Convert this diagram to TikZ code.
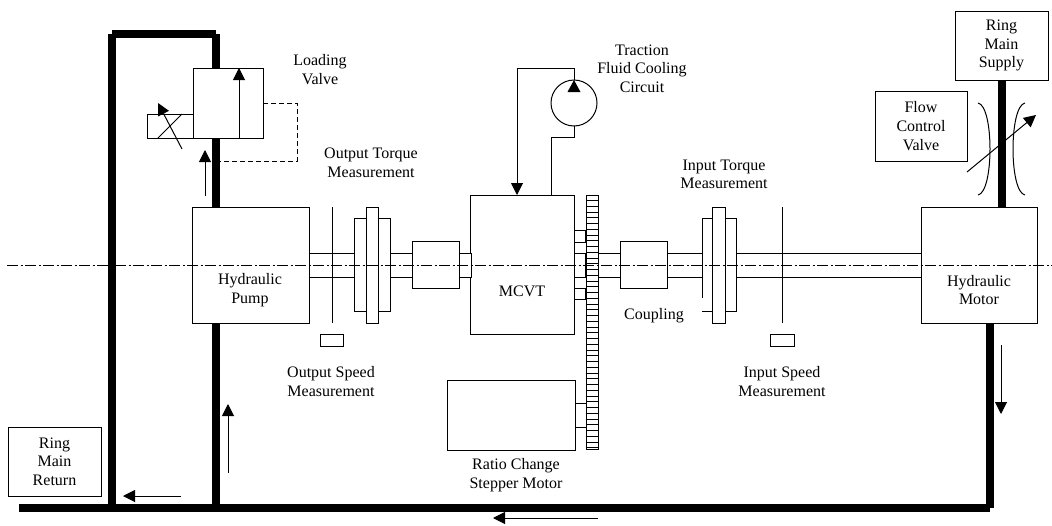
\documentclass[tikz,border=0pt]{standalone}
\usepackage{fontspec}
\setmainfont{Liberation Serif}
\usetikzlibrary{arrows.meta}
\tikzset{
  box/.style={draw, line width=1pt, fill=white, inner sep=0pt, outer sep=0pt},
  txt/.style={align=center, inner sep=0pt, font=\fontsize{16}{18.6}\selectfont},
  pipe/.style={line width=8pt},
  wire/.style={line width=1pt},
  flow/.style={line width=1pt, -{Triangle[length=12pt,width=12pt]}},
}
\begin{document}
\begin{tikzpicture}[x=1pt, y=-1pt]
    \useasboundingbox (0,0) rectangle (1052,525);

    % 配管の点
    \coordinate (TL) at (112,34);
    \coordinate (TR) at (216,34);
    \coordinate (VT) at (216,68);
    \coordinate (VB) at (216,138);
    \coordinate (PT) at (216,207);
    \coordinate (PB) at (216,323);
    \coordinate (BP) at (216,508);
    \coordinate (BL) at (112,508);
    \coordinate (BS) at (19,508);
    \coordinate (BE) at (990,508);
    \coordinate (MB) at (990,323);
    \coordinate (ST) at (1002,80);
    \coordinate (SB) at (1002,207);

    % ブロック
    \node[box, minimum width=117, minimum height=116] (pump) at (250.5,265) {};
    \node[box, minimum width=116, minimum height=116] (motor) at (979,265) {};
    \node[box, minimum width=104, minimum height=139] (mcvt) at (522,264.5) {};
    \node[box, minimum width=47, minimum height=47] (couplingA) at (435.5,264.5) {};
    \node[box, minimum width=47, minimum height=47] (couplingB) at (643.5,264.5) {};
    \node[box, minimum width=128, minimum height=70] (stepper) at (511,415) {};
    \node[box, minimum width=93, minimum height=69] (supply) at (1001.5,45.5) {};
    \node[box, minimum width=92, minimum height=70] (flowvalve) at (921,126) {};
    \node[box, minimum width=93, minimum height=69] (return) at (54.5,461.5) {};

    % 軸
    \node[box, minimum width=46, minimum height=24] (shaftA) at (332,265) {};
    \node[box, minimum width=22, minimum height=24] (shaftB) at (401,265) {};
    \node[box, minimum width=12, minimum height=24] (shaftC) at (465.5,265) {};
    \node[box, minimum width=22, minimum height=24] (shaftD) at (609,265) {};
    \node[box, minimum width=35, minimum height=24] (shaftE) at (684.5,265) {};
    \node[box, minimum width=185, minimum height=24] (shaftF) at (828.5,265) {};

    % フランジ
    \node[box, minimum width=36, minimum height=93] (flangeA) at (372,264.5) {};
    \node[box, minimum width=12, minimum height=116] (hubA) at (372,265) {};
    \draw[wire] (712,311) -- (702,311) (702,298) -- (702,218) -- (736,218) -- (736,311) -- (725,311);
    \node[box, minimum width=13, minimum height=116] (hubB) at (718.5,265) {};

    % ラック
    \node[box, minimum width=11, minimum height=12] (stubA) at (579.5,236) {};
    \node[box, minimum width=11, minimum height=24] (stubB) at (579.5,265) {};
    \node[box, minimum width=11, minimum height=11] (stubC) at (579.5,293.5) {};
    \node[box, minimum width=11, minimum height=24] (stubD) at (580.5,415) {};
    \node[box, minimum width=12, minimum height=254] (rack) at (592,322) {};
    \foreach \y in {0,...,43} {
      \draw[line width=0.8pt] (586,200.5+5.75*\y) -- (598,200.5+5.75*\y);
    }

    % センサ
    \coordinate (sensorAT) at (332,207);
    \coordinate (sensorAB) at (332,323);
    \coordinate (sensorBT) at (782,207);
    \coordinate (sensorBB) at (782,323);
    \draw[wire] (sensorAT) -- (sensorAB);
    \draw[wire] (sensorBT) -- (sensorBB);
    \node[box, minimum width=23, minimum height=12] (speedA) at (331.5,340) {};
    \node[box, minimum width=24, minimum height=12] (speedB) at (782,340) {};

    % 太い配管
    \draw[pipe] (TL) -- (TR);
    \draw[pipe] (TL) -- (BL);
    \draw[pipe] (TR) -- (VT);
    \draw[pipe] (VB) -- (PT);
    \draw[pipe] (PB) -- (BP);
    \draw[pipe] (BS) -- (BE);
    \draw[pipe] (MB) -- (BE);
    \draw[pipe] (ST) -- (SB);

    % 弁
    \node[box, minimum width=70, minimum height=70] (valve) at (228,103) {};
    \node[box, minimum width=46, minimum height=24] (solenoid) at (170,126) {};
    \coordinate (valveB) at (239,138);
    \coordinate (valveT) at (239,68);
    \draw[flow] (valveB) -- (valveT);
    \coordinate (crossA) at (158,138);
    \coordinate (crossB) at (182,114);
    \draw[wire] (crossA) -- (crossB);
    \coordinate (adjA) at (182,149);
    \coordinate (adjB) at (158,103);
    \draw[flow] (adjA) -- (adjB);
    \coordinate (pilotA) at (263,103);
    \coordinate (pilotB) at (297,103);
    \coordinate (pilotC) at (297,161);
    \coordinate (pilotD) at (220,161);
    \draw[wire, dashed, dash pattern=on 5pt off 3pt] (pilotA) -- (pilotB) -- (pilotC) -- (pilotD);

    % 冷却回路
    \node[circle, draw, line width=1pt, inner sep=0pt, outer sep=0pt, minimum size=46] (cooler) at (574,103) {};
    \coordinate (coolA) at (574,68);
    \coordinate (coolB) at (517,68);
    \coordinate (coolC) at (517,195);
    \coordinate (coolD) at (574,137);
    \coordinate (coolE) at (551,137);
    \coordinate (coolF) at (551,195);
    \draw[flow] (cooler.north) -- (coolA) -- (coolB) -- (coolC);
    \draw[wire] (cooler.south) -- (coolD) -- (coolE) -- (coolF);
    \fill (574,80) -- (580.5,92) -- (567.5,92) -- cycle;

    % 流量制御弁
    \coordinate (orificeA) at (978,103);
    \coordinate (orificeB) at (978,195);
    \coordinate (orificeC) at (1025,103);
    \coordinate (orificeD) at (1025,195);
    \draw[wire] (orificeA) .. controls (994,106) and (994,192) .. (orificeB);
    \draw[wire] (orificeC) .. controls (1009,106) and (1009,192) .. (orificeD);
    \coordinate (adjC) at (967,172);
    \coordinate (adjD) at (1036,115);
    \draw[flow] (adjC) -- (adjD);

    % 流れの矢印
    \coordinate (arrA) at (205,196);
    \coordinate (arrB) at (205,150);
    \draw[flow] (arrA) -- (arrB);
    \coordinate (arrC) at (228,473);
    \coordinate (arrD) at (228,404);
    \draw[flow] (arrC) -- (arrD);
    \coordinate (arrE) at (181,496);
    \coordinate (arrF) at (123,496);
    \draw[flow] (arrE) -- (arrF);
    \coordinate (arrG) at (598,518);
    \coordinate (arrH) at (493,518);
    \draw[flow] (arrG) -- (arrH);
    \coordinate (arrI) at (1001,345);
    \coordinate (arrJ) at (1001,414);
    \draw[flow] (arrI) -- (arrJ);

    % 一点鎖線
    \coordinate (axisL) at (7,265);
    \coordinate (axisR) at (1052,265);
    \draw[line width=1pt, dash pattern=on 11pt off 2.5pt on 2.5pt off 2pt] (axisL) -- (axisR);

    % ラベル
    \node[txt] (pumplabel) at (250,290) {Hydraulic\\Pump};
    \node[txt] (motorlabel) at (979,290) {Hydraulic\\Motor};
    \node[txt] (mcvtlabel) at (522,291) {MCVT};
    \node[txt] (supplylabel) at (1001.5,45.5) {Ring\\Main\\Supply};
    \node[txt] (flowlabel) at (921,126) {Flow\\Control\\Valve};
    \node[txt] (returnlabel) at (54.5,461.5) {Ring\\Main\\Return};
    \node[txt] (loadinglabel) at (320,69.5) {Loading\\Valve};
    \node[txt] (tractionlabel) at (642,68.5) {Traction\\Fluid Cooling\\Circuit};
    \node[txt] (outtorquelabel) at (371,162.5) {Output Torque\\Measurement};
    \node[txt] (intorquelabel) at (724,174.5) {Input Torque\\Measurement};
    \node[txt] (outspeedlabel) at (331,381.5) {Output Speed\\Measurement};
    \node[txt] (inspeedlabel) at (782,381.5) {Input Speed\\Measurement};
    \node[txt] (couplinglabel) at (654,316) {Coupling};
    \node[txt] (ratiolabel) at (516,475) {Ratio Change\\Stepper Motor};
\end{tikzpicture}
\end{document}
